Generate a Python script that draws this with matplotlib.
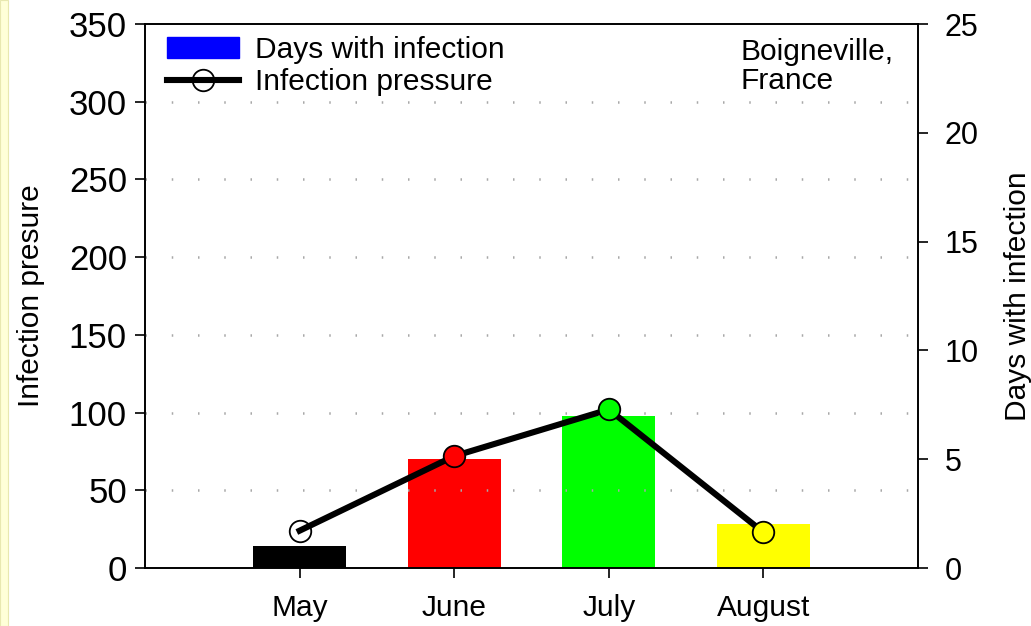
import matplotlib
matplotlib.use('Agg')
import matplotlib.pyplot as plt
from matplotlib.patches import Patch, Rectangle
from matplotlib.lines import Line2D

plt.rcParams['font.family'] = ['Liberation Sans', 'DejaVu Sans']

months = ['May', 'June', 'July', 'August']
days_infection = [1, 5, 7, 2]
infection_pressure = [24, 72, 102, 23]
month_colors = ['black', 'red', '#00ff00', 'yellow']
marker_faces = ['none', 'red', '#00ff00', 'yellow']

fig = plt.figure(figsize=(10.31, 6.26), dpi=100)
fig.patches.append(Rectangle((0, 0), 8 / 1031, 1, transform=fig.transFigure,
                             facecolor='#ffffd8', edgecolor='#e8e8b0', lw=0.8))

ax1 = fig.add_axes([145 / 1031, 58 / 626, 773 / 1031, 544 / 626])
ax2 = ax1.twinx()

x = list(range(len(months)))

# days with infection as bars on the right axis
ax2.bar(x, days_infection, width=0.6, color=month_colors, zorder=2)
ax2.set_ylim(0, 25)
ax2.set_yticks([0, 5, 10, 15, 20, 25])
ax2.set_ylabel('Days with infection', fontsize=21.5, labelpad=18)

# infection pressure as a line on the left axis, drawn above the bars
ax1.set_zorder(ax2.get_zorder() + 1)
ax1.patch.set_visible(False)
ax1.plot(x, infection_pressure, color='black', lw=4.4, zorder=3)
for xi, yi, fc in zip(x, infection_pressure, marker_faces):
    ax1.plot(xi, yi, 'o', markersize=15.5, markerfacecolor=fc,
             markeredgecolor='black', markeredgewidth=1.3,
             zorder=4 if fc != 'none' else 2.5)
ax1.set_ylim(0, 350)
ax1.set_yticks(range(0, 351, 50))
ax1.set_xlim(-1, 4)
ax1.set_xticks(x)
ax1.set_xticklabels(months)
ax1.set_ylabel('Infection presure', fontsize=21.5, labelpad=17)

for v in range(50, 301, 50):
    ax1.axhline(v, color='#a8a8a8', lw=1.8, dashes=(0.6, 9.9, 0, 0), zorder=1)

for ax in (ax1, ax2):
    for s in ax.spines.values():
        s.set_linewidth(1.2)
    ax.tick_params(direction='out', length=7, width=1.2)
ax1.tick_params(axis='y', labelsize=25, pad=6)
ax2.tick_params(axis='y', labelsize=22, pad=12)
ax1.tick_params(axis='x', labelsize=21.5, pad=12)

handles = [Patch(facecolor='blue', edgecolor='blue'),
           Line2D([], [], color='black', lw=4.4, marker='o', markersize=15.5,
                  markerfacecolor='none', markeredgecolor='black', markeredgewidth=1.3)]
ax1.legend(handles, ['Days with infection', 'Infection pressure'], loc='upper left',
           frameon=False, fontsize=21.5, handlelength=2.4, handletextpad=0.55,
           labelspacing=0.15, borderaxespad=0.1, bbox_to_anchor=(0.009, 1.006))

ax1.text(0.77, 0.975, 'Boigneville,\nFrance', transform=ax1.transAxes, fontsize=21.5,
         va='top', ha='left', linespacing=1.05)

fig.savefig('out.png', dpi=100)
